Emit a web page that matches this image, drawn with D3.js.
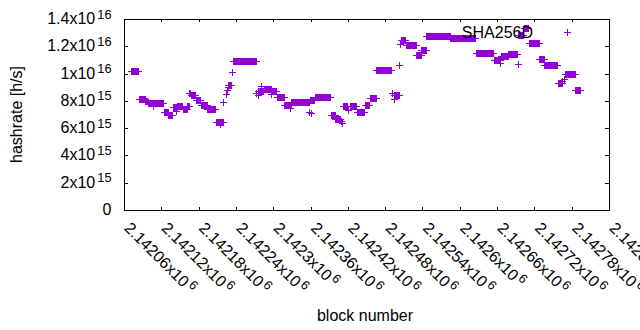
<!DOCTYPE html>
<html>
<head>
<meta charset="utf-8">
<script src="https://cdn.jsdelivr.net/npm/d3@7"></script>
<style>
  body { margin: 0; background: #fff; }
  text { font-family: "Liberation Sans", Arial, sans-serif; font-size: 16px; fill: #000; }
</style>
</head>
<body>
<div id="body"></div>
<script>
// runs of blocks sharing one hashrate estimate (x10^15 h/s)
var runFrom = [2142071, 2142084, 2142094, 2142098, 2142107, 2142124, 2142131, 2142138, 2142143, 2142146,
  2142155, 2142162, 2142165, 2142167, 2142175,
  2142184, 2142194, 2142208, 2142215, 2142220, 2142224, 2142226, 2142227, 2142228,
  2142234, 2142236, 2142273, 2142275, 2142276, 2142280, 2142285, 2142296, 2142298, 2142306,
  2142318, 2142327, 2142329, 2142358, 2142359, 2142360, 2142367, 2142393, 2142400, 2142409,
  2142411, 2142412, 2142420, 2142423, 2142434, 2142447, 2142455, 2142466, 2142491, 2142494,
  2142495, 2142502, 2142503, 2142504, 2142505, 2142513, 2142530, 2142538, 2142546, 2142585,
  2142626, 2142655, 2142664, 2142666, 2142678, 2142693, 2142694, 2142703, 2142711, 2142728,
  2142736, 2142758, 2142765, 2142767, 2142770, 2142786];
var runTo = [2142083, 2142093, 2142097, 2142122, 2142107, 2142130, 2142137, 2142145, 2142143, 2142154,
  2142161, 2142164, 2142166, 2142174, 2142183,
  2142193, 2142207, 2142219, 2142215, 2142220, 2142224, 2142226, 2142227, 2142232,
  2142234, 2142272, 2142273, 2142275, 2142284, 2142280, 2142297, 2142296, 2142305, 2142317,
  2142328, 2142327, 2142357, 2142358, 2142366, 2142360, 2142392, 2142399, 2142407, 2142409,
  2142411, 2142419, 2142420, 2142433, 2142446, 2142454, 2142465, 2142490, 2142491, 2142494,
  2142501, 2142502, 2142503, 2142504, 2142512, 2142529, 2142537, 2142545, 2142584, 2142625,
  2142654, 2142665, 2142664, 2142677, 2142692, 2142693, 2142702, 2142710, 2142727, 2142735,
  2142757, 2142764, 2142765, 2142767, 2142785, 2142793];
var runHash = [10.2, 8.15, 8.0, 7.83, 7.62, 7.15, 7.0, 7.52, 7.25, 7.62,
  7.42, 7.62, 8.55, 8.43, 8.07,
  7.7, 7.42, 6.45, 6.3, 7.95, 8.5, 8.8, 9.0, 9.17,
  10.12, 10.92, 8.55, 8.45, 8.7, 9.1, 8.87, 8.5, 8.75, 8.29,
  7.67, 7.45, 7.92, 7.2, 8.07, 7.1, 8.29, 6.94, 6.68, 6.5,
  6.35, 7.65, 7.35, 7.65, 7.21, 7.7, 8.21, 10.27, 8.6, 8.1,
  8.41, 10.65, 8.41, 12.19, 12.46, 12.12, 11.36, 11.75, 12.78, 12.59,
  11.51, 11.0, 10.8, 11.31, 11.44, 10.73, 12.85, 13.34, 12.24, 11.04,
  10.65, 9.3, 9.45, 9.6, 9.99, 8.8];

var seriesName = "SHA256D";

var xTicks = [2142060, 2142120, 2142180, 2142240, 2142300, 2142360, 2142420,
  2142480, 2142540, 2142600, 2142660, 2142720, 2142780, 2142840];
var xTickLabels = ["2.14206", "2.14212", "2.14218", "2.14224", "2.1423", "2.14236", "2.14242",
  "2.14248", "2.14254", "2.1426", "2.14266", "2.14272", "2.14278", "2.14284"];
var xTickPower = "6";

var yTicks = [0, 2e15, 4e15, 6e15, 8e15, 1e16, 1.2e16, 1.4e16];
var yTickLabels = ["0", "2", "4", "6", "8", "1", "1.2", "1.4"];
var yTickPowers = ["", "15", "15", "15", "15", "16", "16", "16"];

var data = [];
runFrom.forEach(function(from, i) {
  for (var b = from; b <= runTo[i]; b++) {
    data.push({block: b, hashrate: runHash[i] * 1e15});
  }
});

var width = 640, height = 330;
var plot = {left: 124, right: 609, top: 19, bottom: 210};
var color = "#9400d3";

var svg = d3.select("#body")
  .append("svg")
  .attr("width", width)
  .attr("height", height);

var xScale = d3.scaleLinear()
  .domain([xTicks[0], xTicks[xTicks.length - 1]])
  .range([plot.left, plot.right]);

var yScale = d3.scaleLinear()
  .domain([0, 1.4e16])
  .range([plot.bottom, plot.top]);

// inward ticks on all four sides, gnuplot style
function tickAxis(axis, size, tx, ty) {
  var g = svg.append("g")
    .attr("transform", "translate(" + tx + "," + ty + ")")
    .attr("shape-rendering", "crispEdges")
    .call(axis.tickSize(size).tickFormat(""));
  g.select(".domain").remove();
  g.selectAll("line").attr("stroke", "#000");
  return g;
}
tickAxis(d3.axisBottom(xScale).tickValues(xTicks), -3, 0, plot.bottom);
tickAxis(d3.axisTop(xScale).tickValues(xTicks), -3, 0, plot.top);
tickAxis(d3.axisLeft(yScale).tickValues(yTicks), -4, plot.left, 0);
tickAxis(d3.axisRight(yScale).tickValues(yTicks), -4, plot.right, 0);

svg.append("rect")
  .attr("x", plot.left + 0.5)
  .attr("y", plot.top + 0.5)
  .attr("width", plot.right - plot.left)
  .attr("height", plot.bottom - plot.top)
  .attr("fill", "none")
  .attr("stroke", "#000")
  .attr("shape-rendering", "crispEdges");

// y tick labels
var yLab = svg.append("g").selectAll("text")
  .data(yTicks)
  .enter().append("text")
  .attr("x", 111.5)
  .attr("y", function(d) { return yScale(d) + 5; })
  .attr("text-anchor", "end");
yLab.append("tspan").text(function(d, i) { return yTickLabels[i] + (yTickPowers[i] ? "x10" : ""); });
yLab.append("tspan")
  .attr("dx", 2)
  .attr("dy", -5.5)
  .style("font-size", "12.8px")
  .text(function(d, i) { return yTickPowers[i]; });

// x tick labels, rotated
var xLab = svg.append("g").selectAll("text")
  .data(xTicks)
  .enter().append("text")
  .attr("transform", function(d) { return "translate(" + (xScale(d) - 0.5) + ",229) rotate(45)"; });
xLab.append("tspan").text(function(d, i) { return xTickLabels[i] + "x10"; });
xLab.append("tspan")
  .attr("dx", 2)
  .attr("dy", -5.5)
  .style("font-size", "12.8px")
  .text(xTickPower);

svg.append("text")
  .attr("transform", "translate(21.5,114.5) rotate(-90)")
  .attr("text-anchor", "middle")
  .text("hashrate [h/s]");

svg.append("text")
  .attr("x", 365)
  .attr("y", 321)
  .attr("text-anchor", "middle")
  .text("block number");

var plus = "M-3.5,0H3.5M0,-3.5V3.5";

svg.append("g")
  .attr("shape-rendering", "crispEdges")
  .selectAll("path")
  .data(data)
  .enter().append("path")
  .attr("d", plus)
  .attr("transform", function(d) {
    return "translate(" + (Math.round(xScale(d.block)) + 0.5) + "," + (Math.round(yScale(d.hashrate)) + 0.5) + ")";
  })
  .attr("fill", "none")
  .attr("stroke", color)
  .attr("stroke-width", 1);

// key
svg.append("text")
  .attr("x", 533)
  .attr("y", 37.5)
  .attr("text-anchor", "end")
  .text(seriesName);
svg.append("path")
  .attr("d", plus)
  .attr("transform", "translate(567.5,32.5)")
  .attr("fill", "none")
  .attr("stroke", color)
  .attr("shape-rendering", "crispEdges");
</script>
</body>
</html>
